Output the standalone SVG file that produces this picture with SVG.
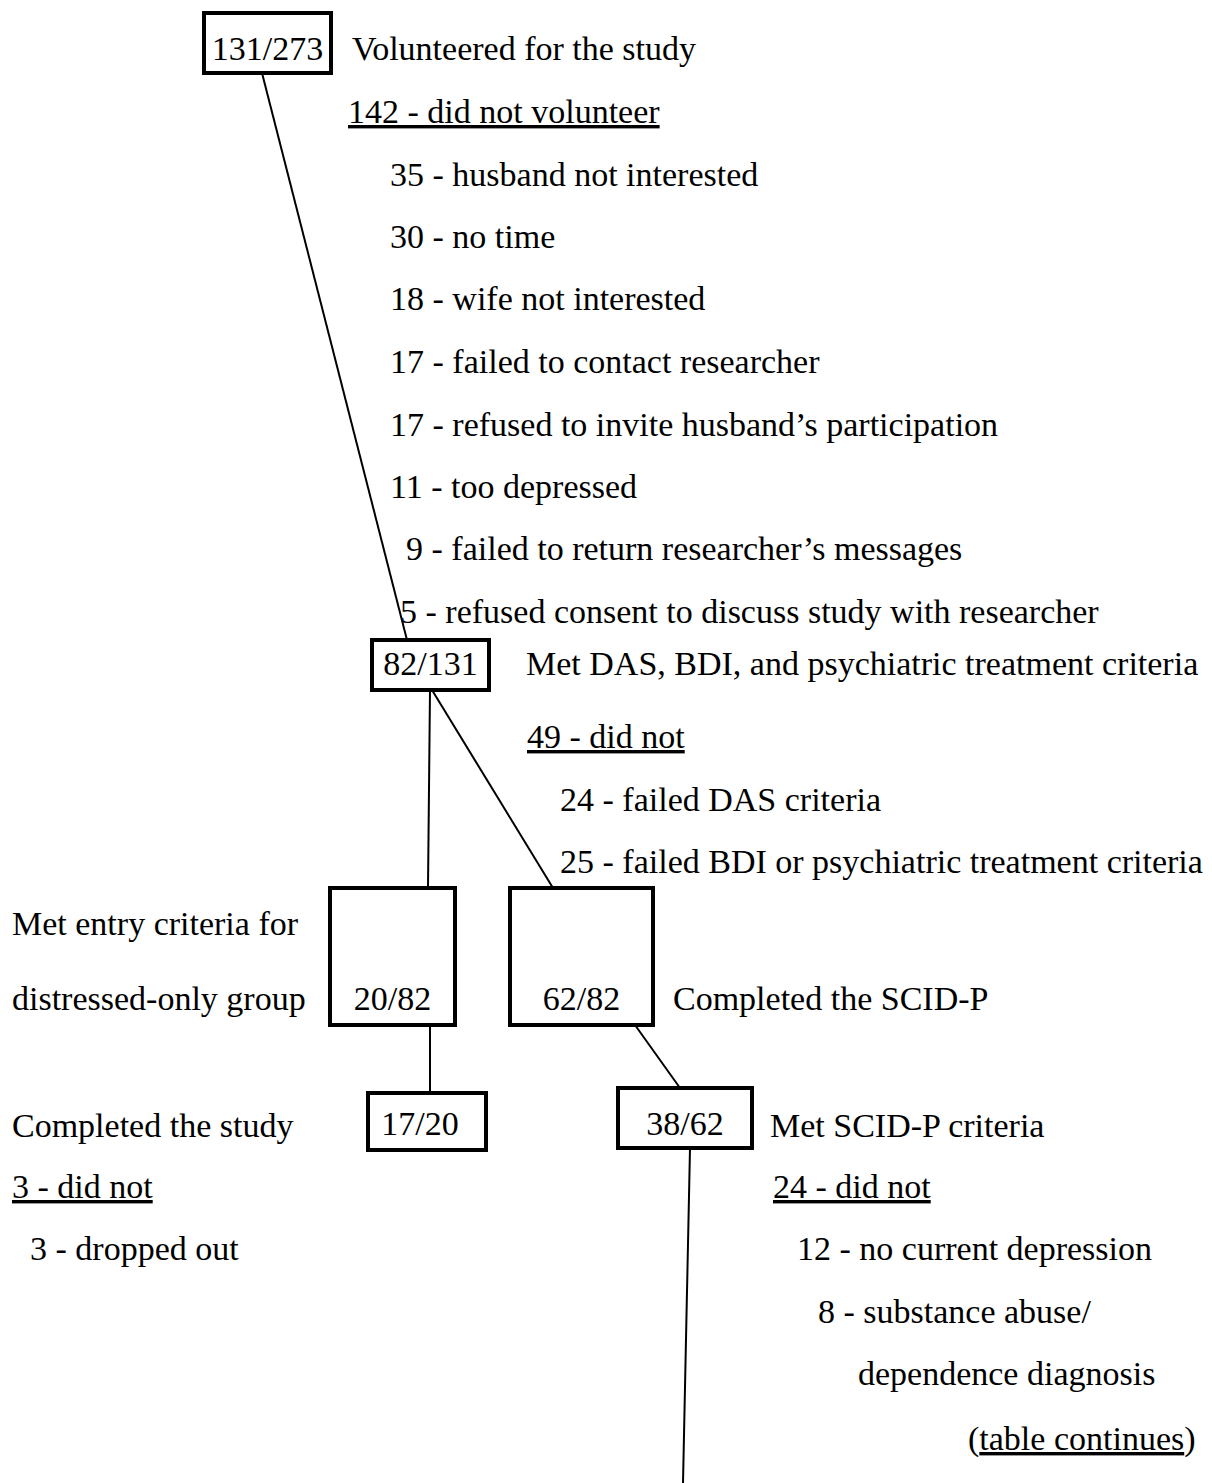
<svg xmlns="http://www.w3.org/2000/svg" width="1212" height="1483" viewBox="0 0 1212 1483">
<style>
text{font-family:"Liberation Serif","Times New Roman",serif;font-size:34px;fill:#000}
.u{text-decoration:underline}
.box{fill:#fff;stroke:#000;stroke-width:4}
.c line{stroke:#000;stroke-width:2;fill:none}
.m{text-anchor:middle}
</style>
<rect width="1212" height="1483" fill="#fff"/>
<g class="c" id="connectors">
<line x1="262" y1="73" x2="407" y2="640"/>
<line x1="430" y1="690" x2="428" y2="888"/>
<line x1="432" y1="690" x2="553" y2="888"/>
<line x1="430" y1="1025" x2="430" y2="1093"/>
<line x1="635" y1="1025" x2="680" y2="1088"/>
<line x1="690" y1="1148" x2="683" y2="1483"/>
</g>
<g id="n1"><rect class="box" x="204" y="13" width="127" height="60"/><text x="267.5" y="60" class="m">131/273</text></g>
<g id="n2"><rect class="box" x="372" y="640" width="117" height="50"/><text x="430.5" y="675" class="m">82/131</text></g>
<g id="n3"><rect class="box" x="330" y="888" width="125" height="137"/><text x="392.5" y="1010" class="m">20/82</text></g>
<g id="n4"><rect class="box" x="510" y="888" width="143" height="137"/><text x="581.5" y="1010" class="m">62/82</text></g>
<g id="n5"><rect class="box" x="368" y="1093" width="118" height="57"/><text x="420" y="1135" class="m">17/20</text></g>
<g id="n6"><rect class="box" x="618" y="1088" width="134" height="60"/><text x="685" y="1135" class="m">38/62</text></g>
<g id="labels">
<text x="352" y="60">Volunteered for the study</text>
<text x="348" y="123" class="u">142 - did not volunteer</text>
<text x="390" y="186">35 - husband not interested</text>
<text x="390" y="248">30 - no time</text>
<text x="390" y="310">18 - wife not interested</text>
<text x="390" y="373">17 - failed to contact researcher</text>
<text x="390" y="436">17 - refused to invite husband’s participation</text>
<text x="390" y="498">11 - too depressed</text>
<text x="406" y="560">9 - failed to return researcher’s messages</text>
<text x="400" y="623">5 - refused consent to discuss study with researcher</text>
<text x="526" y="675">Met DAS, BDI, and psychiatric treatment criteria</text>
<text x="527" y="748" class="u">49 - did not</text>
<text x="560" y="811">24 - failed DAS criteria</text>
<text x="560" y="873">25 - failed BDI or psychiatric treatment criteria</text>
<text x="12" y="935">Met entry criteria for</text>
<text x="12" y="1010">distressed-only group</text>
<text x="673" y="1010">Completed the SCID-P</text>
<text x="12" y="1137">Completed the study</text>
<text x="770" y="1137">Met SCID-P criteria</text>
<text x="12" y="1198" class="u">3 - did not</text>
<text x="773" y="1198" class="u">24 - did not</text>
<text x="30" y="1260">3 - dropped out</text>
<text x="797" y="1260">12 - no current depression</text>
<text x="818" y="1323">8 - substance abuse/</text>
<text x="858" y="1385">dependence diagnosis</text>
<text x="968" y="1450">(<tspan class="u">table continues</tspan>)</text>
</g>
</svg>
